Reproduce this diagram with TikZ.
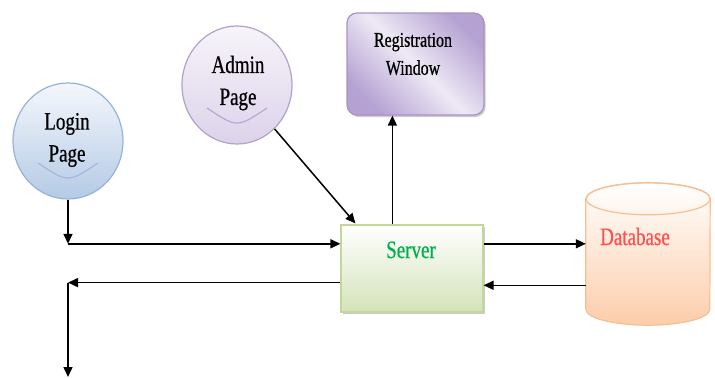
\documentclass[tikz,border=0pt]{standalone}
\usepackage{fontspec}
\newfontfamily\labfont[FakeStretch=0.76,FakeBold=0.6]{Liberation Serif}
\usetikzlibrary{calc,arrows.meta,shadows,shapes.geometric}
\definecolor{loginB}{HTML}{95B3D7}
\definecolor{loginBot}{HTML}{B4CAE5}
\definecolor{loginTop}{HTML}{F4F7FC}
\definecolor{loginArc}{HTML}{A9B4DE}
\definecolor{adminB}{HTML}{B3A2C7}
\definecolor{adminBot}{HTML}{DCD2EA}
\definecolor{adminTop}{HTML}{F7F4FA}
\definecolor{adminArc}{HTML}{B8A6D4}
\definecolor{regB}{HTML}{A793C4}
\definecolor{regDark}{HTML}{B5A2D2}
\definecolor{regLight}{HTML}{EEE9F5}
\definecolor{servB}{HTML}{C3D69B}
\definecolor{servBot}{HTML}{D4E3B9}
\definecolor{servTxt}{HTML}{00B050}
\definecolor{dbB}{HTML}{F9BE8E}
\definecolor{dbBot}{HTML}{FCCDAA}
\definecolor{dbTxt}{HTML}{FF4F4F}
\begin{document}
\begin{tikzpicture}[x=1pt,y=-1pt,
  arr/.style={draw=black, line width=1.5pt, -{Triangle[length=10pt,width=9pt]}},
  lab/.style={font=\labfont\fontsize{25}{32}\selectfont, align=center, inner sep=0pt},
  smalllab/.style={font=\labfont\fontsize{21}{28}\selectfont, align=center, inner sep=0pt},
  bubble/.style={ellipse, line width=1.2pt, inner sep=0pt},
  softshadow/.style={drop shadow={shadow xshift=1.5pt, shadow yshift=-2pt, opacity=0.4, fill=gray}},
  smile/.style={line width=1.2pt}]
\useasboundingbox (0,0) rectangle (715,378);

% Nodes
\node[bubble, draw=loginB, top color=loginTop, bottom color=loginBot,
      minimum width=110pt, minimum height=116pt] (login) at (68,141) {};
\node[bubble, draw=adminB, top color=adminTop, bottom color=adminBot,
      minimum width=110pt, minimum height=118pt] (admin) at (237,85) {};
\node[rectangle, rounded corners=10pt, draw=regB, line width=1.2pt,
      left color=regDark, right color=regDark, middle color=regLight, shading angle=135,
      softshadow, minimum width=137pt, minimum height=102pt] (reg) at (415.5,64) {};
\node[rectangle, draw=servB, line width=1.2pt, top color=white, bottom color=servBot,
      softshadow, minimum width=142pt, minimum height=87pt] (server) at (412,268.5) {};
\node[rectangle, minimum width=124pt, minimum height=142pt, inner sep=0pt] (db) at (648,254) {};

% Database cylinder
\path[draw=dbB, line width=1.2pt, top color=white, bottom color=dbBot]
  ($(db.north west)+(0,16)$) -- ($(db.south west)+(0,-16)$)
  arc[start angle=180, end angle=0, x radius=62, y radius=16]
  -- ($(db.north east)+(0,16)$)
  arc[start angle=0, end angle=-180, x radius=62, y radius=16] -- cycle;
\draw[dbB, line width=1.2pt] ($(db.north)+(0,16)$) ellipse[x radius=62, y radius=16];

% Smiles
\draw[smile, loginArc] ($(login.center)+(-30,22)$) coordinate (ls1) .. controls ($(login.center)+(0,42)$) .. ($(login.center)+(30,22)$) coordinate (ls2);
\draw[smile, adminArc] ($(admin.center)+(-30,23)$) coordinate (as1) .. controls ($(admin.center)+(0,43)$) .. ($(admin.center)+(30,23)$) coordinate (as2);

% Texts
\node[lab] (logintxt) at (67,140) {Login\\Page};
\node[lab] (admintxt) at (238,83) {Admin\\Page};
\node[smalllab] (regtxt) at (413,54) {Registration\\Window};
\node[lab, anchor=base, text=servTxt] (servtxt) at (411,258) {Server};
\node[lab, anchor=base, text=dbTxt] (dbtxt) at (635,245) {Database};

% Connection points
\coordinate (sw1) at ($(server.north west)!0.22!(server.south west)$);
\coordinate (sw2) at ($(server.north west)!0.66!(server.south west)$);
\coordinate (se1) at ($(server.north east)!0.22!(server.south east)$);
\coordinate (se2) at ($(server.north east)!0.69!(server.south east)$);
\coordinate (j1) at (login.south |- sw1);
\coordinate (j2) at (login.south |- sw2);
\coordinate (outp) at (68,377);
\coordinate (sa) at ($(server.north west)+(15,-1)$);
\coordinate (sr) at ($(server.north west)+(52,0)$);

% Connectors
\draw[arr] (login.south) -- (j1);
\draw[arr] (j1) -- (sw1);
\draw[arr] (sw2) -- (j2);
\draw[arr] (j2) -- (outp);
\draw[arr] (admin) -- (sa);
\draw[arr] (sr) -- (sr |- reg.south);
\draw[arr] (se1) -- (se1 -| db.west);
\draw[arr] (se2 -| db.west) -- (se2);
\end{tikzpicture}
\end{document}
